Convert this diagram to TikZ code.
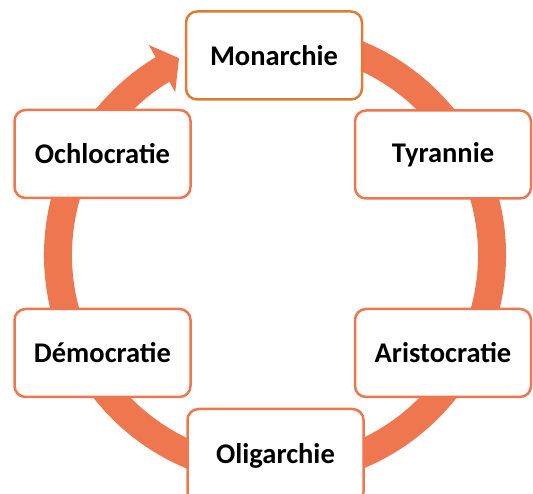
\documentclass[tikz,border=0pt]{standalone}
\usepackage{fontspec}
\setmainfont{Carlito}
\usetikzlibrary{calc}
\definecolor{ringc}{RGB}{238,119,79}
\definecolor{monc}{RGB}{226,124,52}
\begin{document}
\begin{tikzpicture}[x=1pt,y=1pt,
  govbox/.style={draw=ringc, line width=2.5pt, fill=white, rounded corners=11pt,
    minimum width=176pt, minimum height=88pt, inner sep=0pt,
    font=\fontsize{28.5}{34}\selectfont\bfseries, text=black}]
\useasboundingbox (0,0) rectangle (533,493);
% ring
\coordinate (c) at (275,238);
\draw[ringc, line width=28pt] (c) ++(80:217) arc[start angle=80, end angle=-239.5, radius=217];
\fill[ringc] ($(c)+(121:245)$) -- ($(c)+(116:219)$) -- ($(c)+(121.5:191)$) -- cycle;
% boxes
\node[govbox, draw=monc] (mon) at (274,437.5) {Monarchie};
\node[govbox] (tyr) at (443,338.5) {Tyrannie};
\node[govbox] (ari) at (443,140) {Aristocratie};
\node[govbox, minimum height=94pt] (oli) at (275.5,37) {Oligarchie};
\node[govbox] (dem) at (102.5,140) {Démocratie};
\node[govbox] (och) at (102.5,339) {Ochlocratie};
\end{tikzpicture}
\end{document}
